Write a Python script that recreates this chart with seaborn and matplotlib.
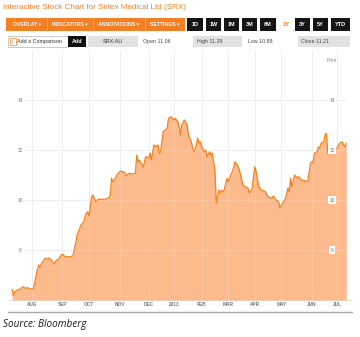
import numpy as np
import matplotlib
matplotlib.use("Agg")
import matplotlib.pyplot as plt
from matplotlib.patches import Rectangle
import seaborn as sns

# SRX:AU closing prices, indexed by ASX trading session counted from 11 Jul 2012
session = [0, 1, 2, 4, 6, 8, 10, 12, 14, 16, 17, 19, 20, 21, 22, 23, 25, 26, 28, 30,
           32, 33, 35, 37, 38, 40, 42, 45, 46, 48, 49, 51, 52, 54, 55, 56, 57, 58, 60, 61,
           63, 65, 69, 72, 74, 75, 76, 78, 79, 80, 82, 84, 85, 86, 88, 90, 93, 94, 95, 96,
           98, 99, 100, 101, 103, 104, 105, 107, 108, 110, 111, 112, 114, 117, 118, 120, 122, 123, 125, 126,
           127, 128, 130, 132, 133, 135, 137, 138, 140, 141, 142, 143, 145, 146, 147, 149, 150, 151, 152, 153,
           154, 156, 157, 158, 159, 160, 162, 163, 165, 167, 168, 169, 171, 172, 174, 176, 178, 179, 181, 183,
           184, 186, 188, 191, 193, 196, 197, 199, 201, 202, 204, 206, 208, 209, 210, 211, 213, 215, 216, 217,
           218, 221, 223, 225, 226, 227, 228, 230, 231, 232, 233, 235, 236, 237, 238, 239, 242, 244, 245, 247,
           249, 250, 251, 252]
price = [6.43, 6.18, 6.33, 6.40, 6.43, 6.53, 6.47, 6.49, 6.44, 6.45, 6.67, 7.20, 7.40, 7.31, 7.44, 7.53, 7.67, 7.64, 7.68, 7.57,
         7.44, 7.57, 7.63, 7.79, 7.83, 7.73, 7.73, 7.73, 7.80, 8.27, 8.60, 8.87, 9.00, 9.13, 9.33, 9.47, 9.53, 9.36, 10.13, 10.20,
         9.93, 10.03, 10.03, 10.05, 10.16, 10.87, 10.73, 10.87, 11.00, 11.07, 11.16, 11.12, 11.09, 10.96, 11.07, 11.04, 11.07, 11.80, 11.53, 11.60,
         11.40, 11.31, 11.60, 11.73, 11.67, 11.87, 11.60, 12.20, 12.13, 12.20, 11.87, 11.93, 12.73, 12.87, 13.27, 13.33, 13.20, 13.27, 13.13, 12.93,
         12.60, 13.00, 13.20, 13.00, 12.60, 12.33, 11.93, 12.00, 12.47, 12.27, 12.33, 12.13, 11.93, 12.00, 11.73, 11.93, 11.80, 11.87, 11.53, 11.13,
         9.87, 10.40, 10.27, 10.40, 10.33, 10.40, 10.87, 10.73, 11.00, 11.27, 11.53, 11.47, 11.27, 11.07, 10.60, 10.53, 10.47, 10.27, 10.47, 11.33,
         11.13, 10.53, 10.40, 10.33, 10.13, 10.07, 10.16, 10.00, 9.93, 9.69, 9.87, 10.03, 10.47, 10.33, 10.87, 10.53, 11.00, 10.87, 10.93, 10.87,
         10.80, 10.77, 10.73, 11.47, 11.53, 11.47, 11.87, 11.93, 12.13, 12.07, 12.27, 12.33, 12.60, 12.67, 11.87, 12.13, 12.11, 12.07, 12.07, 12.27,
         12.33, 12.20, 12.13, 12.27]

first_session = "2012-07-11"
asx_holidays = ["2012-12-25", "2012-12-26", "2013-01-01", "2013-01-28",
                "2013-03-29", "2013-04-01", "2013-04-25", "2013-06-10"]
month_starts = ["2012-08-01", "2012-09-01", "2012-10-01", "2012-11-01", "2012-12-01", "2013-01-01",
                "2013-02-01", "2013-03-01", "2013-04-01", "2013-05-01", "2013-06-01", "2013-07-01"]
month_labels = ["AUG", "SEP", "OCT", "NOV", "DEC", "2013", "FEB", "MAR", "APR", "MAY", "JUN", "JUL"]
price_ticks = [8, 10, 12, 14]

title = "Interactive Stock Chart for Sirtex Medical Ltd (SRX)"
menu_labels = ["OVERLAY \u25be", "INDICATORS \u25be", "ANNOTATIONS \u25be", "SETTINGS \u25be"]
range_labels = ["1D", "1W", "1M", "3M", "6M", "1Y", "3Y", "5Y", "YTD"]
active_range = "1Y"
ticker = "SRX:AU"
quote_names = ["Open", "High", "Low", "Close"]
quote_values = [11.06, 11.29, 10.88, 11.21]
source_note = "Source: Bloomberg"

sns.set_style("white")
plt.rcParams["font.family"] = ["Liberation Sans", "DejaVu Sans"]

ORANGE = "#F47F24"
FILL = "#FDBA8D"
LINE = "#F5841F"
GRID = "#e8e8e8"
LABEL = "#777777"

W, H = 360, 337
fig = plt.figure(figsize=(W / 100, H / 100), dpi=100)
fig.patch.set_facecolor("white")

# page furniture drawn in pixel coordinates (origin top-left)
ui = fig.add_axes([0, 0, 1, 1])
ui.set_xlim(0, W)
ui.set_ylim(H, 0)
ui.axis("off")

ui.text(3, 7.5, title, color=ORANGE, fontsize=5.8, va="center", ha="left")

# menu bar
ui.add_patch(Rectangle((6, 18), 179, 13, color=ORANGE, lw=0))
for sx in [47, 93, 145]:
    ui.plot([sx, sx], [18, 31], color="#F9B07A", lw=0.6)
for cx, lab in zip([27, 70, 119, 165], menu_labels):
    ui.text(cx, 24.8, lab, color="white", fontsize=3.7, fontweight="bold", ha="center", va="center")

# range buttons
range_spans = [(187, 203), (206, 221), (224, 239), (242, 257), (260, 276), (280, 293),
               (295, 310), (313, 328), (331, 350)]
for (a, b), lab in zip(range_spans, range_labels):
    if lab == active_range:
        ui.text((a + b) / 2, 24.8, lab, color=ORANGE, fontsize=4.2, fontweight="bold",
                ha="center", va="center")
    else:
        ui.add_patch(Rectangle((a, 18), b - a, 13, color="#151515", lw=0))
        ui.text((a + b) / 2, 24.8, lab, color="white", fontsize=4.0, fontweight="bold",
                ha="center", va="center")

# comparison / quote row
ui.add_patch(Rectangle((8, 36), 60, 11, fc="white", ec="#b5b5b5", lw=0.5))
ui.add_patch(Rectangle((9.5, 38), 6, 7, fc="none", ec=ORANGE, lw=0.5))
ui.text(12.5, 41.3, "+", color=ORANGE, fontsize=4, ha="center", va="center")
ui.text(17, 41.5, "Add a Comparison", color="#333333", fontsize=3.9, ha="left", va="center")
ui.add_patch(Rectangle((68, 36), 18, 11, color="#111111", lw=0))
ui.text(77, 41.5, "Add", color="white", fontsize=3.9, fontweight="bold", ha="center", va="center")
ui.add_patch(Rectangle((88, 36), 50, 11, color="#e2e2e2", lw=0))
ui.text(113, 41.5, ticker, color="#333333", fontsize=4.0, ha="center", va="center")

quote_boxes = [None, (193, 49), None, (298, 52)]
quote_x = [143, 197, 248, 301]
for name, val, box, qx in zip(quote_names, quote_values, quote_boxes, quote_x):
    if box is not None:
        ui.add_patch(Rectangle((box[0], 36), box[1], 11, color="#e2e2e2", lw=0))
    ui.text(qx, 41.5, f"{name} {val:.2f}", color="#444444", fontsize=3.8, ha="left", va="center")

ui.text(327, 60, "Print", color="#888888", fontsize=3.5, ha="left", va="center")

# frame lines under the plot
ui.plot([8, 352], [300, 300], color="#d8d8d8", lw=0.6)
ui.plot([8, 352], [311.5, 311.5], color="#aaaaaa", lw=1.0)

ui.text(3, 325, source_note, color="#1a1a1a", fontsize=7.2, style="italic",
        family=["Open Sans", "DejaVu Sans"], ha="left", va="center")

# price chart
left_px, right_px, top_px, bottom_px = 8, 347, 50, 300
ax = fig.add_axes([left_px / W, (H - bottom_px) / H, (right_px - left_px) / W, (bottom_px - top_px) / H])
ax.patch.set_visible(False)

px_per_session = 1.326
ax.set_xlim(-(12.1 - left_px) / px_per_session, (right_px - 12.1) / px_per_session)
ax.set_ylim(6, 16)

month_pos = np.busday_count(first_session, month_starts, holidays=asx_holidays)

for m in month_pos:
    ax.axvline(m, color=GRID, lw=0.6, zorder=0)
for t in price_ticks:
    ax.axhline(t, xmin=(25 - left_px) / (right_px - left_px), xmax=1, color=GRID, lw=0.6, zorder=0)

ax.fill_between(session, price, 6, color=FILL, lw=0, zorder=1)
for m in month_pos:
    ax.axvline(m, color="white", alpha=0.22, lw=0.6, zorder=2)
for t in price_ticks:
    ax.axhline(t, xmin=(25 - left_px) / (right_px - left_px), xmax=1, color="white",
               alpha=0.22, lw=0.6, zorder=2)

sns.lineplot(x=session, y=price, ax=ax, color=LINE, lw=0.95, zorder=3)

ytr = ax.get_yaxis_transform()
for t in price_ticks:
    ax.text((20 - left_px) / (right_px - left_px), t, str(t), transform=ytr, color=LABEL,
            fontsize=3.5, ha="center", va="center", zorder=4)
    ax.text((332 - left_px) / (right_px - left_px), t, str(t), transform=ytr, color=LABEL,
            fontsize=3.5, ha="center", va="center", zorder=4,
            bbox=dict(boxstyle="square,pad=0.25", fc="white", ec="none"))

xtr = ax.get_xaxis_transform()
for m, lab in zip(month_pos, month_labels):
    ax.text(m, -(304 - bottom_px) / (bottom_px - top_px), lab, transform=xtr, color=LABEL,
            fontsize=3.4, fontweight="bold", ha="center", va="center", clip_on=False)

ax.set_xticks([])
ax.set_yticks([])
ax.set_xlabel("")
ax.set_ylabel("")
for sp in ax.spines.values():
    sp.set_visible(False)

fig.savefig("out.png", dpi=100)
